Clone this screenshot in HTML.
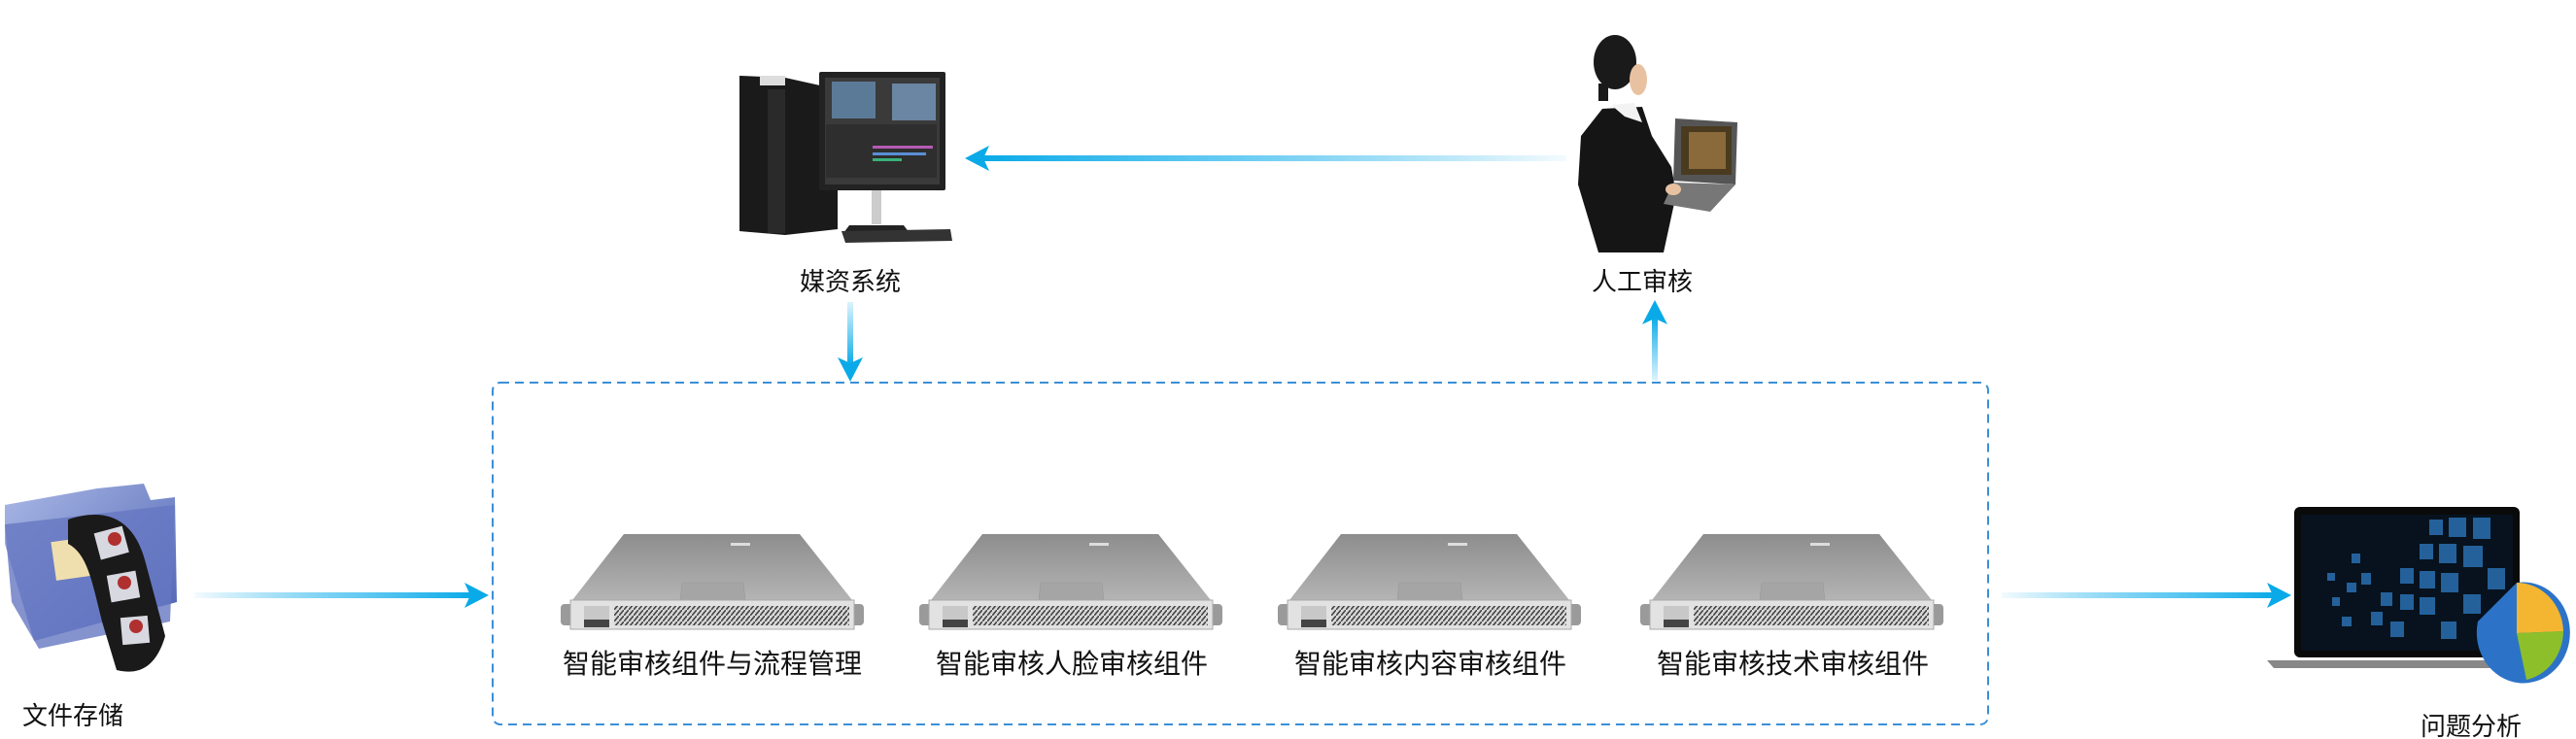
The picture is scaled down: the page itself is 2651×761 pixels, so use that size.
<!DOCTYPE html>
<html><head><meta charset="utf-8"><style>
html,body{margin:0;padding:0;background:#fff;}
body{width:2651px;height:761px;overflow:hidden;position:relative;}
svg{position:absolute;left:0;top:0;}
text{font-family:"Liberation Sans","Noto Sans CJK SC",sans-serif;fill:#111;}
</style></head><body>
<svg width="2651" height="761" viewBox="0 0 2651 761" xmlns="http://www.w3.org/2000/svg">
<defs>
<linearGradient id="gR" x1="0" x2="1" y1="0" y2="0"><stop offset="0" stop-color="#1ab0ea" stop-opacity="0.05"/><stop offset="0.5" stop-color="#3cbcef" stop-opacity="0.7"/><stop offset="1" stop-color="#0aaae8"/></linearGradient>
<linearGradient id="gL" x1="1" x2="0" y1="0" y2="0"><stop offset="0" stop-color="#1ab0ea" stop-opacity="0.05"/><stop offset="0.5" stop-color="#3cbcef" stop-opacity="0.7"/><stop offset="1" stop-color="#0aaae8"/></linearGradient>
<linearGradient id="gD" x1="0" x2="0" y1="0" y2="1"><stop offset="0" stop-color="#1ab0ea" stop-opacity="0.15"/><stop offset="1" stop-color="#0aaae8"/></linearGradient>
<linearGradient id="gU" x1="0" x2="0" y1="1" y2="0"><stop offset="0" stop-color="#1ab0ea" stop-opacity="0.15"/><stop offset="1" stop-color="#0aaae8"/></linearGradient>
<linearGradient id="top" x1="0" x2="0" y1="0" y2="1"><stop offset="0" stop-color="#8d8d8d"/><stop offset="1" stop-color="#b4b4b4"/></linearGradient>
<linearGradient id="fold" x1="0" x2="1" y1="0" y2="1"><stop offset="0" stop-color="#aab8e6"/><stop offset="1" stop-color="#4a5fb0"/></linearGradient>
<pattern id="hatch" width="5" height="6" patternUnits="userSpaceOnUse"><rect width="5" height="6" fill="#d8d8d8"/><line x1="0" y1="6" x2="5" y2="0" stroke="#444" stroke-width="1.6"/></pattern>
<g id="srv">
<polygon points="65,0 246,0 300,68 12,68" fill="url(#top)"/>
<polygon points="125,50 188,50 190,68 123,68" fill="#a5a5a5" stroke="#999" stroke-width="0.6"/>
<rect x="175" y="9" width="20" height="3" fill="#ddd"/>
<rect x="0" y="72" width="14" height="22" rx="4" fill="#9a9a9a"/>
<rect x="298" y="72" width="14" height="22" rx="4" fill="#9a9a9a"/>
<rect x="10" y="68" width="292" height="30" fill="#e2e2e2" stroke="#aaa"/>
<rect x="24" y="74" width="26" height="22" fill="#c8c8c8"/>
<rect x="24" y="88" width="26" height="8" fill="#444"/>
<rect x="55" y="74" width="242" height="20" fill="url(#hatch)"/>
</g>
</defs>

<rect x="507" y="394" width="1539" height="352" rx="8" fill="none" stroke="#3b8fd6" stroke-width="2" stroke-dasharray="9,6"/>

<rect x="200" y="610" width="285" height="6" fill="url(#gR)"/>
<polygon points="478,600 503,613 478,626 484,613" fill="#0aaae8"/>
<rect x="2060" y="610" width="280" height="6" fill="url(#gR)"/>
<polygon points="2333,600 2358,613 2333,626 2339,613" fill="#0aaae8"/>
<rect x="1012" y="160" width="600" height="6" fill="url(#gL)"/>
<polygon points="1018,150 993,163 1018,176 1012,163" fill="#0aaae8"/>
<rect x="872" y="311" width="6" height="65" fill="url(#gD)"/>
<polygon points="862,368 875,393 888,368 875,374" fill="#0aaae8"/>
<rect x="1700" y="326" width="6" height="66" fill="url(#gU)"/>
<polygon points="1690,334 1703,309 1716,334 1703,328" fill="#0aaae8"/>

<polygon points="761,78 808,80 862,92 862,236 808,242 761,238" fill="#1a1a1a"/>
<rect x="782" y="78" width="26" height="10" fill="#ddd"/>
<rect x="790" y="92" width="18" height="148" fill="#2a2a2a"/>
<rect x="843" y="74" width="130" height="122" rx="2" fill="#222"/>
<rect x="849" y="80" width="118" height="110" fill="#3a3a3a"/>
<rect x="856" y="84" width="45" height="38" fill="#5b7a98"/>
<rect x="918" y="86" width="45" height="38" fill="#6a86a2"/>
<rect x="850" y="128" width="114" height="55" fill="#2e2e2e"/>
<rect x="898" y="150" width="62" height="3" fill="#b65ab5"/>
<rect x="898" y="157" width="55" height="3" fill="#5a8ed6"/>
<rect x="898" y="163" width="30" height="3" fill="#3ab07a"/>
<rect x="897" y="196" width="10" height="35" fill="#ccc"/>
<polygon points="874,232 930,232 936,240 868,240" fill="#222"/>
<polygon points="866,238 978,236 980,248 870,250" fill="#333"/>

<ellipse cx="1662" cy="64" rx="22" ry="28" fill="#1a1a1a"/>
<ellipse cx="1686" cy="82" rx="9" ry="16" fill="#e8c2a0"/>
<rect x="1645" y="86" width="10" height="18" fill="#1a1a1a"/>
<polygon points="1649,112 1690,110 1700,140 1720,172 1725,200 1712,260 1645,260 1624,190 1627,140" fill="#151515"/>
<polygon points="1658,108 1682,106 1690,126 1672,120" fill="#f3f3f3"/>
<polygon points="1724,122 1788,126 1786,190 1722,186" fill="#555"/>
<rect x="1730" y="130" width="52" height="50" fill="#4a3a20"/>
<rect x="1738" y="136" width="38" height="38" fill="#8a6a3a"/>
<polygon points="1722,188 1786,190 1760,218 1712,210" fill="#777"/>
<ellipse cx="1722" cy="195" rx="8" ry="6" fill="#e8c2a0"/>

<polygon points="100,503 148,498 155,515 180,512 182,620 35,660 5,560 5,520" fill="url(#fold)"/>
<polygon points="5,540 180,520 175,640 40,668 12,620" fill="#6577c2" opacity="0.8"/>
<rect x="55" y="555" width="45" height="40" fill="#f0dfae" transform="rotate(-8 77 575)"/>
<path d="M70,535 C115,520 140,540 150,580 L170,655 C160,690 140,695 120,690 L105,640 C95,600 90,570 70,560 Z" fill="#1a1a1a"/>
<rect x="100" y="545" width="30" height="28" fill="#d8d8e0" transform="rotate(-15 115 560)"/>
<rect x="112" y="590" width="30" height="28" fill="#d8d8e0" transform="rotate(-10 127 604)"/>
<rect x="125" y="635" width="28" height="28" fill="#d8d8e0" transform="rotate(-5 139 649)"/>
<circle cx="118" cy="555" r="7" fill="#b03030"/>
<circle cx="128" cy="600" r="7" fill="#b03030"/>
<circle cx="140" cy="645" r="7" fill="#b03030"/>

<rect x="2361" y="522" width="232" height="155" rx="6" fill="#0a0a0a"/>
<rect x="2368" y="530" width="218" height="140" fill="#07121e"/>
<g fill="#2a6fb0" opacity="0.85">
<rect x="2500" y="535" width="14" height="16"/><rect x="2520" y="533" width="18" height="20"/><rect x="2545" y="533" width="18" height="22"/>
<rect x="2490" y="560" width="14" height="16"/><rect x="2510" y="560" width="18" height="20"/><rect x="2535" y="562" width="20" height="22"/>
<rect x="2470" y="585" width="14" height="16"/><rect x="2490" y="588" width="16" height="18"/><rect x="2512" y="590" width="18" height="20"/>
<rect x="2450" y="610" width="12" height="14"/><rect x="2470" y="612" width="14" height="16"/><rect x="2490" y="615" width="16" height="18"/>
<rect x="2430" y="590" width="10" height="12"/><rect x="2415" y="600" width="10" height="10"/><rect x="2400" y="615" width="8" height="9"/>
<rect x="2440" y="630" width="12" height="14"/><rect x="2460" y="640" width="14" height="16"/>
<rect x="2512" y="640" width="16" height="18"/><rect x="2535" y="612" width="18" height="20"/><rect x="2560" y="585" width="18" height="22"/>
<rect x="2420" y="570" width="9" height="10"/><rect x="2395" y="590" width="8" height="8"/><rect x="2410" y="635" width="10" height="10"/>
</g>
<polygon points="2333,680 2600,680 2592,688 2340,688" fill="#888"/>
<path d="M2590,600 A48,52 0 1,1 2550,640 Z" fill="#2c73c8"/>
<path d="M2590,600 A48,52 0 0,1 2638,650 L2590,652 Z" fill="#f4b630"/>
<path d="M2590,652 L2638,650 A48,52 0 0,1 2600,700 Z" fill="#8dbf2a"/>

<use href="#srv" x="577" y="550"/>
<use href="#srv" x="946" y="550"/>
<use href="#srv" x="1315" y="550"/>
<use href="#srv" x="1688" y="550"/>

<g font-size="26" text-anchor="middle">
<text x="875" y="299">媒资系统</text>
<text x="1690" y="299">人工审核</text>
<text x="75" y="746">文件存储</text>
<text x="2543" y="757">问题分析</text>
</g>
<g font-size="28" text-anchor="middle">
<text x="733" y="693">智能审核组件与流程管理</text>
<text x="1103" y="693">智能审核人脸审核组件</text>
<text x="1472" y="693">智能审核内容审核组件</text>
<text x="1845" y="693">智能审核技术审核组件</text>
</g>
</svg>
</body></html>
